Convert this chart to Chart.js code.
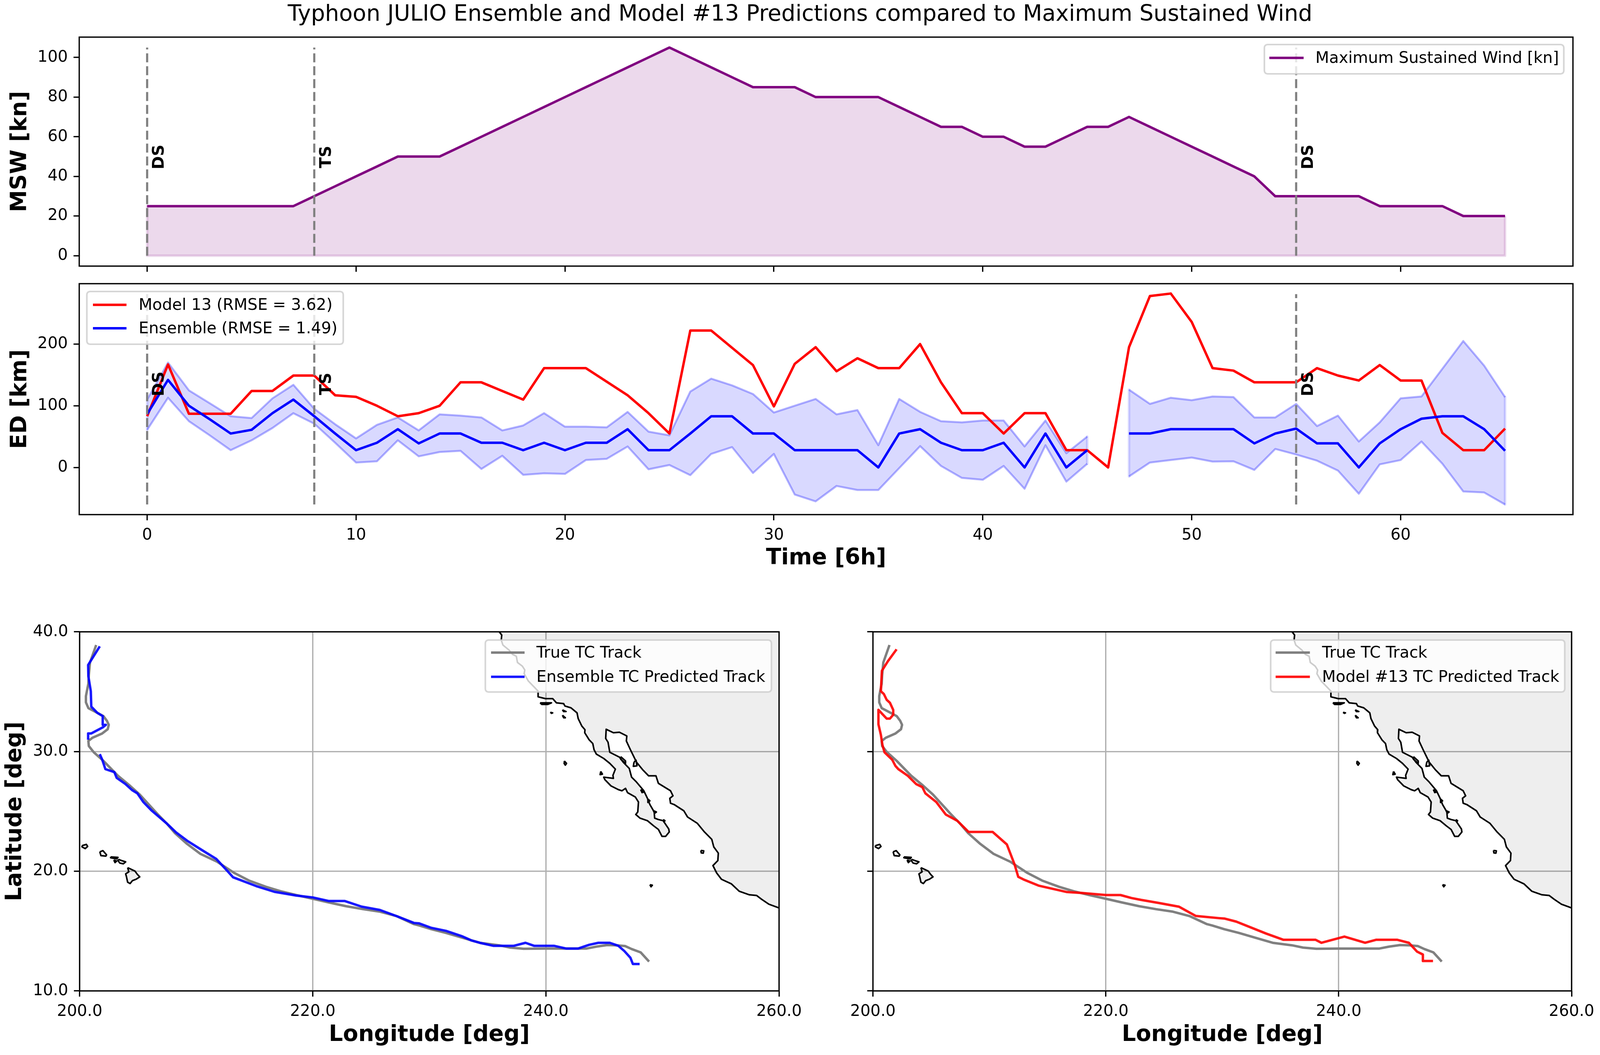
<!DOCTYPE html>
<html><head><meta charset="utf-8">
<style>html,body{margin:0;padding:0;background:#fff;overflow:hidden}canvas{position:absolute;display:block}</style>
<script src="https://cdn.jsdelivr.net/npm/chart.js@4"></script>
</head><body>
<canvas id="cA"></canvas><canvas id="cB"></canvas><canvas id="cC"></canvas><canvas id="cD"></canvas>
<script>
// ---------- data ----------
const figureTitle = 'Typhoon JULIO Ensemble and Model #13 Predictions compared to Maximum Sustained Wind';
const timeSteps = [0,1,2,3,4,5,6,7,8,9,10,11,12,13,14,15,16,17,18,19,20,21,22,23,24,25,26,27,28,29,30,31,32,33,34,35,36,37,38,39,40,41,42,43,44,45,46,47,48,49,50,51,52,53,54,55,56,57,58,59,60,61,62,63,64,65];
const mswValues = [25,25,25,25,25,25,25,25,30,35,40,45,50,50,50,55,60,65,70,75,80,85,90,95,100,105,100,95,90,85,85,85,80,80,80,80,75,70,65,65,60,60,55,55,60,65,65,70,65,60,55,50,45,40,30,30,30,30,30,25,25,25,25,20,20,20];
const model13ED = [83,167,87,87,87,124,124,149,149,117,114.5,100,83,88,100,138,138,124,110,161,161,161,139,117,88,55,222,222,194,166,99,168,195,156,177,161,161,200,138,88,88,55,88,88,28,28,0,195,278,282,236,161,157,138,138,138,161,149,141,166,141,141,56,28,28,63];
const ensembleED = [86.5,142,100,78,55,61,88,110,83,55,28,40,62,39,55,55,40,40,28,40,28,40,40,62,28,28,55,83,83,55,55,28,28,28,28,0,55,62,40,28,28,40,0,55,0,28,null,55,55,62,62,62,62,39,55,63,39,39,0,39,62,79,83,83,62,27];
const bandUpper = [110,170,125,104,83,80,112,134,95,70,47,69,81,60,86,84,81,60,68,88,66,66,65,90,58,52,123,144,133,119,89,100,111,86,93,36,111,90,75,73,76,76,34,76,23,50,null,126,103,113,109,115,114,81,81,103,67,84,42,73,112,115,160,205,165,114];
const bandLower = [61,113,75,52,28,44,64,88,71,40,8,10,44,18,25,27,-2.5,19,-12,-9.5,-10.5,12,14,34,-3,4,-12.5,22,33,-9,22,-44,-55,-30,-36.6,-36.6,-1,34.6,2.5,-17,-20,2.5,-34.6,36,-23,6,null,-14.5,8,12,16,9.5,10,-4,30,21,11,-5,-42.6,5,12,42,6,-39,-40.6,-60];
const stageTimes = [0,8,55];
const stageNames = ['DS','TS','DS'];
const mswStageRange = [0,105];
const edStageRange = [-60,281];
const mswStageTextY = 49.8;
const edStageTextY = 135.5;
const timeTicks = [0,10,20,30,40,50,60];
const mswTicks = [0,20,40,60,80,100];
const edTicks = [0,100,200];
const lonTicks = [200,220,240,260];
const latTicks = [10,20,30,40];

const trueLon = [248.85,248.13,247.35,246.79,246.1,245.27,244.33,243.5,242.04,240,238.08,236.94,236,234.33,232.88,231.42,230.17,229.13,228.68,227.22,225.76,224.31,222.85,221.39,220,218.58,217.23,215.98,214.53,213.28,211.82,210.36,209.22,208.18,207.45,206.62,205.16,204.33,203.29,202.04,201.21,200.79,200.75,201.1,201.94,202.41,202.5,202.35,202.04,201.42,200.75,200.54,200.54,200.75,200.79,200.89,201.42];
const trueLat = [12.45,13.22,13.5,13.75,13.81,13.83,13.7,13.54,13.54,13.54,13.52,13.62,13.81,14.02,14.43,14.85,15.16,15.47,15.58,16.24,16.62,16.83,17.08,17.39,17.7,18.01,18.33,18.7,19.22,19.85,20.78,21.45,22.28,23.18,24.01,24.84,26.4,27.13,27.97,29.22,29.94,30.46,30.88,31.15,31.51,31.86,32.23,32.55,32.96,33.28,33.63,34.11,34.63,35.67,36.4,37.44,38.9];
const ensLon = [248.04,247.46,247.25,246.73,246.21,245.48,244.5,243.71,242.77,241.73,240.69,238.98,238.25,237.25,235.48,234.33,233.6,232.77,231.42,230.17,229.13,228.68,227.22,225.76,224.2,222.75,221.39,220,218.58,216.71,215.15,213.17,212.65,211.72,210.57,209.22,208.28,207.45,206.2,205.47,204.95,204.5,203.91,203.18,202.98,202.21,201.94,201.73,null,200.73,200.73,201,202,202.25,201.98,201.98,201.52,201,200.96,200.75,200.73,201.73];
const ensLat = [12.25,12.25,12.77,13.33,13.77,14.02,14.02,13.85,13.54,13.54,13.77,13.77,14.02,13.77,13.77,14.02,14.22,14.58,15.02,15.27,15.64,15.68,16.24,16.76,17.04,17.51,17.51,17.81,17.97,18.28,18.76,19.49,20.05,21.03,21.72,22.55,23.24,24.01,25.05,25.78,26.51,26.78,27.3,27.8,28.28,28.53,29.32,29.78,null,30.98,31.51,31.51,32.03,32.23,32.23,32.96,33.23,33.75,35.04,36.29,37.23,38.79];
const m13Lon = [248.1,247.23,247.23,246.72,246.03,245.04,243.2,242.27,240.49,238.52,238.02,235.26,233.77,231.2,230.22,229.72,227.73,226.27,224.54,223.04,222.2,221.26,220,217.97,216.66,214.22,213,212.48,212.16,211.5,210.28,208.22,207.24,206.25,205.44,204.5,204.24,203.71,203,202.18,201.93,201.65,200.99,200.81,200.68,200.47,200.47,201.18,201.46,201.74,201.74,201.46,201.18,200.94,200.68,200.77,201.28,202.03];
const m13Lat = [12.5,12.5,13.04,13.29,14.02,14.27,14.27,14.02,14.54,14.02,14.27,14.27,14.79,15.79,16.04,16.08,16.26,17.04,17.35,17.6,17.76,18.01,18.01,18.18,18.26,18.8,19.28,19.53,20.57,22.24,23.28,23.28,24.22,24.74,25.78,26.51,27.03,27.28,27.97,28.53,28.8,29.32,29.94,30.57,31.4,32.28,33.48,32.75,32.75,33.07,33.48,34.07,34.32,34.8,35.04,36.75,37.54,38.54];

const coastLon = [236,236.21,236.17,236.31,236.83,237.15,237.46,237.56,237.98,238.19,238.13,238.5,239.13,239.33,239.33,239.96,240.58,240.9,241.52,241.63,242.15,242.67,242.77,243.08,243.35,243.33,243.71,244.02,244.13,244.33,244.96,245.48,245.96,245.75,245.79,244.96,245.06,245.58,246.21,246.52,246.83,247,247.67,247.94,247.88,247.71,248.08,248.71,249.23,249.65,249.96,250.27,250.58,250.54,250.06,249.65,249.33,249.29,248.92,248.71,248.4,247.77,247.35,247.15,246.63,246.31,245.48,245.33,245.13,245.17,245.79,246.31,246.94,246.9,247.25,247.56,247.77,248.29,248.81,249.44,249.65,250.17,250.69,250.9,250.63,250.69,251,251.83,252.15,252.98,253.6,254.23,254.4,254.79,254.75,254.33,254.65,255.06,255.9,256.58,257.46,258.08,258.5,259.13,260];
const coastLat = [40,39.73,39.31,38.9,38.48,38.11,37.96,37.44,37.13,36.81,36.5,35.88,35.25,35.04,34.57,34.42,34.42,34.07,34,33.8,33.65,33.23,32.75,32.13,31.82,31.57,30.98,30.67,30.15,29.78,29.42,29.01,28.53,28.01,27.76,27.86,27.65,27.13,26.82,26.72,26.92,26.57,26.2,25.78,24.95,24.74,24.43,24.22,23.8,23.49,22.91,22.91,23.28,23.53,24.22,24.32,24.43,24.95,25.57,26.09,26.72,27.45,27.86,28.59,29.11,29.53,29.94,30.78,31.09,31.86,31.57,31.61,31.3,30.88,30.15,29.53,29.11,28.49,27.97,27.97,27.34,27.03,26.72,26.3,26.09,25.68,25.57,25.05,24.53,24.01,23.28,22.66,22.03,21.51,20.89,20.47,19.85,19.33,18.95,18.33,18.03,17.97,17.66,17.24,16.93];
const landCornerLon = [260,260,236];
const landCornerLat = [16.93,40,40];
const islandLons = [
 [204.12,204.75,204.95,205.16,204.85,204.54,204.33,204.12,204.02,203.95,204.22,204.12],
 [203.33,203.6,203.95,203.75,203.45,203.29,203.33],
 [202.66,203.29,203.18,202.66,202.66],
 [202.93,203.18,203.04,202.93],
 [201.73,202,202.31,202.25,201.83,201.73],
 [200.21,200.58,200.69,200.48,200.21,200.21],
 [239.5,240.48,240.17,239.65,239.5],
 [240.38,240.58,240.48,240.38],
 [241.42,241.73,241.52,241.42],
 [241.42,241.67,241.52,241.42],
 [241.58,241.77,241.67,241.56,241.58],
 [244.71,244.85,244.65,244.71],
 [246.42,246.83,246.83,246.42,246.42],
 [247.56,247.73,247.81,247.5,247.56],
 [248.13,248.4,248.25,248.13],
 [248.75,248.92,248.75,248.75],
 [249.23,249.48,249.33,249.23],
 [250.06,250.21,250.13,250.06],
 [253.29,253.54,253.5,253.33,253.29],
 [248.92,249.13,249.02,248.92]
];
const islandLats = [
 [20.3,20.01,19.74,19.53,19.33,19.22,18.97,19.08,19.53,19.78,19.95,20.3],
 [20.99,20.89,20.78,20.62,20.68,20.89,20.99],
 [21.2,21.16,21.03,21.12,21.2],
 [20.93,20.85,20.72,20.93],
 [21.62,21.72,21.37,21.26,21.3,21.62],
 [22.14,22.24,22.07,21.89,22.03,22.14],
 [34.07,34.07,33.94,33.94,34.07],
 [33.28,33.23,33.19,33.28],
 [33.48,33.34,33.34,33.48],
 [33.03,32.82,32.82,33.03],
 [29.21,29.01,28.86,29.01,29.21],
 [28.34,28.11,28.07,28.34],
 [29.57,29.21,29.01,29.36,29.57],
 [29.11,29.28,28.8,28.76,29.11],
 [26.82,26.61,26.57,26.82],
 [26.03,25.88,25.74,26.03],
 [25.05,24.95,24.84,25.05],
 [24.32,24.22,24.11,24.32],
 [21.74,21.7,21.51,21.53,21.74],
 [18.87,18.83,18.7,18.87]
];

// ---------- styles and layout ----------
// The browser's usable width can be below the nominal 4200: horizontal geometry follows what is really available.
const SX = Math.min(1, window.innerWidth / 4200);
const hx = v => v * SX;
const FONT = "'DejaVu Sans'";
const TICK_PX = 41.67 * SX, LABEL_PX = 58.3 * SX, TITLE_PX = 58.3 * SX, STAGE_PX = 42 * SX;
const LW = 6.25, THIN = 3.33;
const LAND = 'rgba(0,0,0,0.067)';
const pts = (xs, ys) => xs.map((x, i) => ({x, y: ys[i]}));
const base = o => Object.assign({pointRadius: 0, pointHoverRadius: 0, borderWidth: LW, borderJoinStyle: 'round', borderCapStyle: 'butt', fill: false, tension: 0}, o);

function axisOpts(o) {
  return {
    type: 'linear', min: o.min, max: o.max,
    afterBuildTicks: s => { s.ticks = o.ticks.map(v => ({value: v})); },
    afterFit: s => { if (o.width !== undefined) s.width = o.width; if (o.height !== undefined) s.height = o.height; },
    border: {display: false},
    grid: {display: true, drawOnChartArea: !!o.grid, color: '#b0b0b0', lineWidth: THIN, drawTicks: true, tickLength: 14.6, tickColor: '#000', tickWidth: THIN},
    ticks: {display: o.labels !== false, color: '#000', font: {family: FONT, size: TICK_PX}, padding: 14.6, autoSkip: false, maxRotation: 0, minRotation: 0,
      callback: o.fmt || (v => String(v))},
    title: o.title ? {display: true, text: o.title, color: '#000', font: {family: FONT, size: LABEL_PX, weight: 'bold'}, padding: o.titlePad} : {display: false}
  };
}

function decor(rect, cfg) {
  return {
    id: 'panelDecor',
    afterLayout(chart) {
      if (chart.titleBlock && cfg.title) { chart.titleBlock.left = 0; chart.titleBlock.right = rect.w; }
    },
    afterDraw(chart) {
      const c = chart.ctx, a = chart.chartArea;
      c.save();
      (cfg.marks || []).forEach(m => {
        c.save();
        c.translate(chart.scales.x.getPixelForValue(m.x) + m.dx, chart.scales.y.getPixelForValue(m.y));
        c.rotate(-Math.PI / 2);
        c.font = `bold ${STAGE_PX}px ${FONT}`; c.fillStyle = '#000'; c.textAlign = 'center'; c.textBaseline = 'middle';
        c.fillText(m.text, 0, 0);
        c.restore();
      });
      c.strokeStyle = '#000'; c.lineWidth = THIN;
      c.strokeRect(a.left, a.top, a.right - a.left, a.bottom - a.top);
      const L = cfg.legend;
      c.beginPath();
      c.roundRect(hx(L.x0) - rect.x, L.y0 - rect.y, hx(L.x1 - L.x0), L.y1 - L.y0, 8);
      c.fillStyle = 'rgba(255,255,255,0.8)'; c.fill();
      c.strokeStyle = 'rgba(204,204,204,0.8)'; c.lineWidth = 4.17; c.stroke();
      const items = chart.data.datasets.filter(d => d.inLegend);
      items.forEach((d, i) => {
        const y = L.ys[i] - rect.y;
        c.beginPath(); c.moveTo(hx(L.lx0) - rect.x, y); c.lineTo(hx(L.lx1) - rect.x, y);
        c.strokeStyle = d.borderColor; c.lineWidth = LW; c.stroke();
        c.fillStyle = '#000'; c.font = `${TICK_PX}px ${FONT}`; c.textAlign = 'left'; c.textBaseline = 'middle';
        c.fillText(d.label, hx(L.tx) - rect.x, y + 2);
      });
      c.restore();
    }
  };
}

function panel(id, r, a, datasets, xOpts, yOpts, cfg) {
  const rect = {x: hx(r.x), y: r.y, w: hx(r.w), h: r.h};
  const area = {left: hx(a.left), right: hx(a.right), top: a.top, bottom: a.bottom};
  const el = document.getElementById(id);
  el.width = Math.round(rect.w); el.height = rect.h;
  el.style.left = rect.x + 'px'; el.style.top = rect.y + 'px';
  el.style.width = Math.round(rect.w) + 'px'; el.style.height = rect.h + 'px';
  const titleBlock = cfg.title ? (area.top - rect.y) : 0;
  return new Chart(el, {
    type: 'line',
    data: {datasets},
    options: {
      responsive: false, animation: false, devicePixelRatio: 1,
      layout: {padding: {top: cfg.title ? 0 : area.top - rect.y, right: Math.round(rect.w) + rect.x - area.right, left: 0, bottom: 0}},
      plugins: {
        legend: {display: false}, tooltip: {enabled: false},
        title: cfg.title ? {display: true, text: cfg.title, color: '#000', font: {family: FONT, size: TITLE_PX, weight: 'normal', lineHeight: 1}, padding: {top: 10, bottom: titleBlock - 10 - TITLE_PX}} : {display: false}
      },
      scales: {
        x: axisOpts(Object.assign({height: r.y + r.h - area.bottom}, xOpts)),
        y: axisOpts(Object.assign({width: area.left - rect.x}, yOpts))
      }
    },
    plugins: [decor(rect, cfg)]
  });
}

const stageLines = (range) => stageTimes.map(t => base({
  data: pts([t, t], range), borderColor: '#808080', borderWidth: 5.5, borderDash: [23, 10], order: 1
}));
const stageMarks = (yVal) => stageTimes.map((t, i) => ({x: t, y: yVal, text: stageNames[i], dx: hx(33)}));

// ---------- MSW panel ----------
const purple = '#800080';
panel('cA', {x: 0, y: 0, w: 4200, h: 720}, {left: 208, top: 95, right: 4129, bottom: 686}, [
  base({label: 'Maximum Sustained Wind [kn]', inLegend: true, data: pts(timeSteps, mswValues), borderColor: purple,
        fill: {value: 0}, backgroundColor: 'rgba(128,0,128,0.15)', order: 3}),
  base({data: [{x: timeSteps[0], y: mswValues[0]}, {x: timeSteps[0], y: 0}, {x: timeSteps[timeSteps.length - 1], y: 0}, {x: timeSteps[timeSteps.length - 1], y: mswValues[mswValues.length - 1]}],
        borderColor: 'rgba(128,0,128,0.15)', order: 4}),
  ...stageLines(mswStageRange)
], {min: -3.25, max: 68.25, ticks: timeTicks, labels: false},
   {min: -5.25, max: 110.25, ticks: mswTicks, title: 'MSW [kn]', titlePad: {top: 18, bottom: 0}},
   {title: figureTitle, marks: stageMarks(mswStageTextY),
    legend: {x0: 3319, y0: 114, x1: 4105, y1: 189, lx0: 3332, lx1: 3422, tx: 3453, ys: [148]}});

// ---------- ED panel ----------
const bandEdges = [[0, 0], [45, 45], [47, 47], [65, 65]].map(p => {
  const i = timeSteps.indexOf(p[0]);
  return base({data: pts(p, [bandUpper[i], bandLower[i]]), borderColor: 'rgba(0,0,255,0.15)', order: 5});
});
panel('cB', {x: 0, y: 660, w: 4200, h: 840}, {left: 208, top: 726, right: 4129, bottom: 1317}, [
  base({label: 'Model 13 (RMSE = 3.62)', inLegend: true, data: pts(timeSteps, model13ED), borderColor: '#ff0000', order: 3}),
  base({label: 'Ensemble (RMSE = 1.49)', inLegend: true, data: pts(timeSteps, ensembleED), borderColor: '#0000ff', order: 2}),
  base({data: pts(timeSteps, bandUpper), borderColor: 'rgba(0,0,255,0.3)', borderWidth: 5, fill: '+1', backgroundColor: 'rgba(0,0,255,0.15)', order: 6}),
  base({data: pts(timeSteps, bandLower), borderColor: 'rgba(0,0,255,0.3)', borderWidth: 5, order: 6}),
  ...bandEdges,
  ...stageLines(edStageRange)
], {min: -3.25, max: 68.25, ticks: timeTicks, title: 'Time [6h]', titlePad: {top: 0, bottom: 37}},
   {min: -76.5, max: 298, ticks: edTicks, title: 'ED [km]', titlePad: {top: 18, bottom: 0}},
   {marks: stageMarks(edStageTextY),
    legend: {x0: 228, y0: 746, x1: 901, y1: 881, lx0: 244, lx1: 332, tx: 364, ys: [780, 840]}});

// ---------- track maps ----------
function landSets() {
  const land = base({data: pts(coastLon.concat(landCornerLon), coastLat.concat(landCornerLat)), borderWidth: 0, borderColor: 'rgba(0,0,0,0)',
    fill: 'shape', backgroundColor: LAND, order: 20});
  const coast = base({data: pts(coastLon, coastLat), borderColor: '#000', borderWidth: 4, order: 19});
  const isles = islandLons.map((lo, i) => base({data: pts(lo, islandLats[i]), borderColor: '#000', borderWidth: 4, fill: 'shape', backgroundColor: LAND, order: 19}));
  return [land, coast, ...isles];
}
const lonFmt = v => v.toFixed(1);
panel('cC', {x: 0, y: 1560, w: 2140, h: 1140}, {left: 209, top: 1617, right: 2045, bottom: 2536}, [
  base({label: 'True TC Track', inLegend: true, data: pts(trueLon, trueLat), borderColor: '#808080', order: 3}),
  base({label: 'Ensemble TC Predicted Track', inLegend: true, data: pts(ensLon, ensLat), borderColor: 'rgba(0,0,255,0.9)', order: 2}),
  ...landSets()
], {min: 200, max: 260, ticks: lonTicks, fmt: lonFmt, grid: true, title: 'Longitude [deg]', titlePad: {top: 0, bottom: 17}},
   {min: 10, max: 40, ticks: latTicks, fmt: lonFmt, grid: true, title: 'Latitude [deg]', titlePad: {top: 5, bottom: 0}},
   {legend: {x0: 1274, y0: 1638, x1: 2025, y1: 1771, lx0: 1289, lx1: 1377, tx: 1408, ys: [1670, 1732]}});
panel('cD', {x: 2200, y: 1560, w: 2000, h: 1140}, {left: 2291, top: 1617, right: 4128, bottom: 2536}, [
  base({label: 'True TC Track', inLegend: true, data: pts(trueLon, trueLat), borderColor: '#808080', order: 3}),
  base({label: 'Model #13 TC Predicted Track', inLegend: true, data: pts(m13Lon, m13Lat), borderColor: 'rgba(255,0,0,0.9)', order: 2}),
  ...landSets()
], {min: 200, max: 260, ticks: lonTicks, fmt: lonFmt, grid: true, title: 'Longitude [deg]', titlePad: {top: 0, bottom: 17}},
   {min: 10, max: 40, ticks: latTicks, fmt: lonFmt, grid: true, labels: false},
   {legend: {x0: 3335, y0: 1638, x1: 4107, y1: 1771, lx0: 3348, lx1: 3438, tx: 3470, ys: [1670, 1732]}});
</script>
</body></html>
